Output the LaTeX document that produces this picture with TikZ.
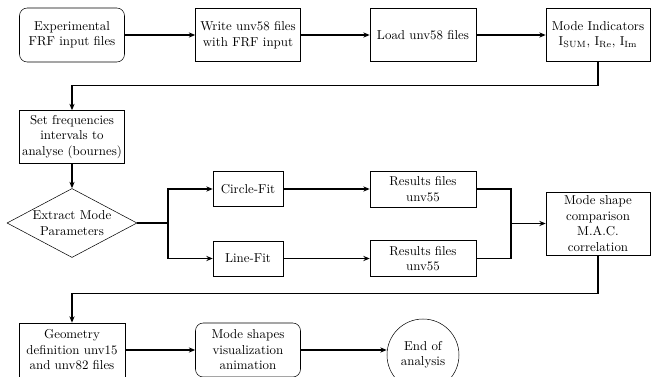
\documentclass[tikz,border=0pt]{standalone}
\usetikzlibrary{shapes.geometric,arrows.meta}
\begin{document}
\begin{tikzpicture}[x=0.775pt,y=-0.775pt,
  box/.style={draw, rectangle, align=center, inner sep=1pt},
  rbox/.style={box, rounded corners=6pt},
  conn/.style={thick, -{Stealth[length=5pt,width=4pt]}},
  plain/.style={thick}]
\useasboundingbox (0,0) rectangle (651,377);
\node[rbox, minimum width=105*0.775pt, minimum height=54*0.775pt] (exp) at (72,35) {Experimental\\FRF input files};
\node[box, minimum width=105*0.775pt, minimum height=53*0.775pt] (write) at (248,35) {Write unv58 files\\with FRF input};
\node[box, minimum width=106*0.775pt, minimum height=53*0.775pt] (load) at (423,35) {Load unv58 files};
\node[box, minimum width=104*0.775pt, minimum height=53*0.775pt] (mi) at (598,35) {Mode Indicators\\$\mathrm{I_{SUM}}$, $\mathrm{I_{Re}}$, $\mathrm{I_{Im}}$};
\node[box, minimum width=105*0.775pt, minimum height=53*0.775pt] (set) at (72,137) {Set frequencies\\intervals to\\analyse (bournes)};
\node[draw, diamond, aspect=1.9, inner sep=0pt, align=center, minimum width=130*0.775pt, minimum height=69*0.775pt] (ext) at (72,223) {Extract Mode\\Parameters};
\node[box, minimum width=70*0.775pt, minimum height=35*0.775pt] (cf) at (248,189) {Circle-Fit};
\node[box, minimum width=70*0.775pt, minimum height=35*0.775pt] (lf) at (248,258.5) {Line-Fit};
\node[box, minimum width=106*0.775pt, minimum height=36*0.775pt] (r1) at (423,189) {Results files\\unv55};
\node[box, minimum width=106*0.775pt, minimum height=36*0.775pt] (r2) at (423,258.5) {Results files\\unv55};
\node[box, minimum width=104*0.775pt, minimum height=63*0.775pt] (mac) at (598,223.5) {Mode shape\\comparison\\M.A.C.\\correlation};
\node[box, minimum width=106*0.775pt, minimum height=54*0.775pt] (geo) at (72,350) {Geometry\\definition unv15\\and unv82 files};
\node[rbox, minimum width=105*0.775pt, minimum height=54*0.775pt] (vis) at (248,350) {Mode shapes\\visualization\\animation};
\node[draw, circle, align=center, minimum size=72*0.775pt, inner sep=0pt] (end) at (423,355) {End of\\analysis};
\coordinate (m) at (511,223.5);
\draw[conn] (exp) -- (write);
\draw[conn] (write) -- (load);
\draw[conn] (load) -- (mi);
\draw[conn] (mi.south) -- ++(0,24) -| (set.north);
\draw[conn] (set) -- (ext);
\draw[conn] (ext.east) -- (168,223) |- (cf.west);
\draw[conn] (ext.east) -- (168,223) |- (lf.west);
\draw[conn] (cf) -- (r1);
\draw[conn] (lf) -- (r2);
\draw[plain] (r1.east) -| (m);
\draw[plain] (r2.east) -| (m);
\draw[conn] (m) -- (mac.west);
\draw[conn] (mac.south) -- ++(0,38) -| (geo.north);
\draw[conn] (geo) -- (vis);
\draw[conn] (vis) -- (end.west |- vis.east);
\end{tikzpicture}
\end{document}
